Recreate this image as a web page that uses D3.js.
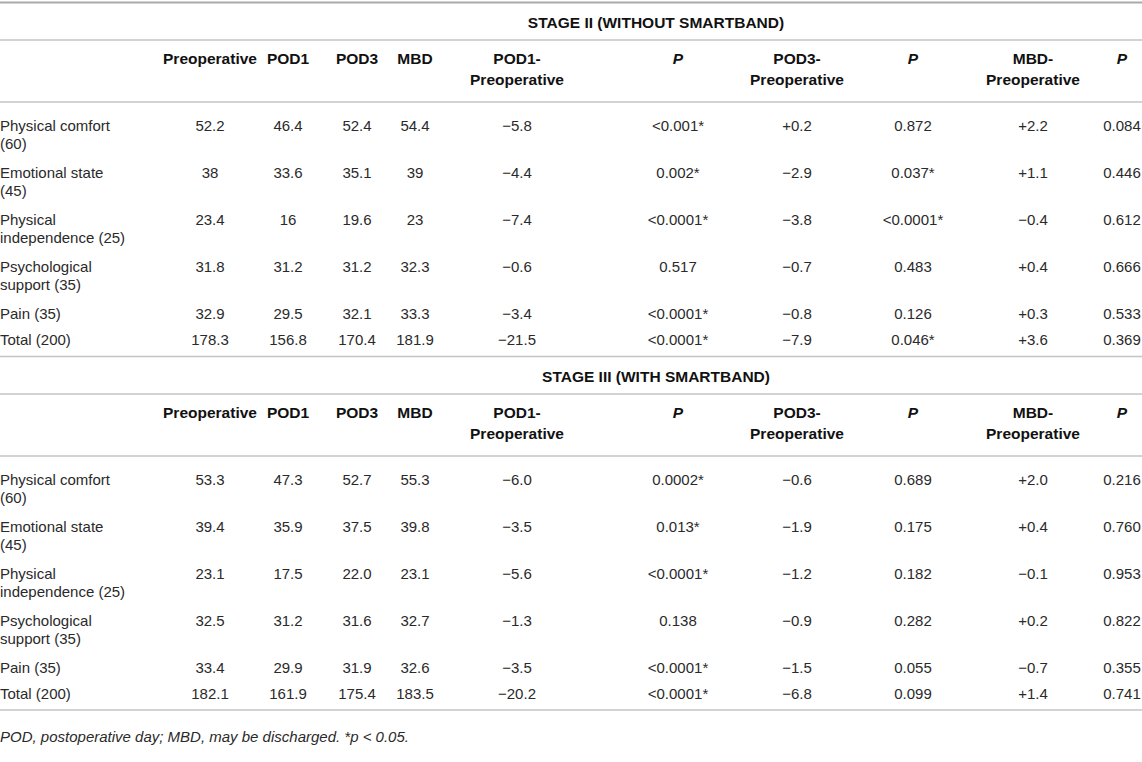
<!DOCTYPE html>
<html>
<head>
  <meta charset="utf-8">
  <title>Stage II / Stage III scores</title>
  <script src="https://d3js.org/d3.v7.min.js"></script>
  <style>
    body { margin: 0; background: #fff; }
    text { font-family: "Liberation Sans", Arial, Helvetica, sans-serif; font-size: 15px; fill: #2a2a2a; }
    .head { font-weight: bold; font-size: 15.5px; fill: #111; }
    .ital { font-style: italic; }
  </style>
</head>
<body>
  <div id="chart"></div>

  <script>
    // Row labels (split into wrapped lines)
    const rowLabels = [
      ["Physical comfort", "(60)"],
      ["Emotional state", "(45)"],
      ["Physical", "independence (25)"],
      ["Psychological", "support (35)"],
      ["Pain (35)"],
      ["Total (200)"]
    ];

    // Column headers
    const columns = [
      ["Preoperative"], ["POD1"], ["POD3"], ["MBD"],
      ["POD1-", "Preoperative"], ["P"],
      ["POD3-", "Preoperative"], ["P"],
      ["MBD-", "Preoperative"], ["P"]
    ];

    const stageTitles = ["STAGE II (WITHOUT SMARTBAND)", "STAGE III (WITH SMARTBAND)"];

    // Stage II (without smartband)
    const s2Preop = [52.2, 38, 23.4, 31.8, 32.9, 178.3];
    const s2Pod1  = [46.4, 33.6, 16, 31.2, 29.5, 156.8];
    const s2Pod3  = [52.4, 35.1, 19.6, 31.2, 32.1, 170.4];
    const s2Mbd   = [54.4, 39, 23, 32.3, 33.3, 181.9];
    const s2D1    = [-5.8, -4.4, -7.4, -0.6, -3.4, -21.5];
    const s2P1    = ["<0.001*", "0.002*", "<0.0001*", "0.517", "<0.0001*", "<0.0001*"];
    const s2D3    = [0.2, -2.9, -3.8, -0.7, -0.8, -7.9];
    const s2P3    = ["0.872", "0.037*", "<0.0001*", "0.483", "0.126", "0.046*"];
    const s2Dm    = [2.2, 1.1, -0.4, 0.4, 0.3, 3.6];
    const s2Pm    = ["0.084", "0.446", "0.612", "0.666", "0.533", "0.369"];

    // Stage III (with smartband)
    const s3Preop = [53.3, 39.4, 23.1, 32.5, 33.4, 182.1];
    const s3Pod1  = [47.3, 35.9, 17.5, 31.2, 29.9, 161.9];
    const s3Pod3  = [52.7, 37.5, 22.0, 31.6, 31.9, 175.4];
    const s3Mbd   = [55.3, 39.8, 23.1, 32.7, 32.6, 183.5];
    const s3D1    = [-6.0, -3.5, -5.6, -1.3, -3.5, -20.2];
    const s3P1    = ["0.0002*", "0.013*", "<0.0001*", "0.138", "<0.0001*", "<0.0001*"];
    const s3D3    = [-0.6, -1.9, -1.2, -0.9, -1.5, -6.8];
    const s3P3    = ["0.689", "0.175", "0.182", "0.282", "0.055", "0.099"];
    const s3Dm    = [2.0, 0.4, -0.1, 0.2, -0.7, 1.4];
    const s3Pm    = ["0.216", "0.760", "0.953", "0.822", "0.355", "0.741"];

    const footnote = "POD, postoperative day; MBD, may be discharged. *p < 0.05.";

    const width = 1142, height = 762;

    // value formatters: stage II keeps raw digits, stage III one decimal
    const raw = d => String(d);
    const one = d3.format(".1f");
    const signed = d3.format("+.1f");
    const same = d => d;

    const stages = [
      { title: stageTitles[0], top: 2,
        cols: [s2Preop, s2Pod1, s2Pod3, s2Mbd, s2D1, s2P1, s2D3, s2P3, s2Dm, s2Pm],
        fmt: [raw, raw, raw, raw, signed, same, signed, same, signed, same] },
      { title: stageTitles[1], top: 356,
        cols: [s3Preop, s3Pod1, s3Pod3, s3Mbd, s3D1, s3P1, s3D3, s3P3, s3Dm, s3Pm],
        fmt: [one, one, one, one, signed, same, signed, same, signed, same] }
    ];

    // column centres
    const x = d3.scaleOrdinal()
      .domain(d3.range(columns.length))
      .range([210, 288, 357, 415, 517, 678, 797, 913, 1033, 1122]);

    // row first-line centres, relative to the stage top
    const y = d3.scaleOrdinal()
      .domain(d3.range(rowLabels.length))
      .range([124, 171, 218, 265, 312, 338]);

    const lineH = 18;

    const svg = d3.select("#chart").append("svg")
      .attr("width", width)
      .attr("height", height);

    stages.forEach((st, si) => {
      const g = svg.append("g").attr("transform", "translate(0," + st.top + ")");

      // rules
      g.append("line").attr("x1", 0).attr("x2", width).attr("y1", 0.5).attr("y2", 0.5)
        .attr("stroke", si === 0 ? "#aaa" : "#c4c4c4").attr("stroke-width", si === 0 ? 2 : 1.5);
      [38, 100].forEach(yy => {
        g.append("line").attr("x1", 0).attr("x2", width).attr("y1", yy).attr("y2", yy)
          .attr("stroke", "#c4c4c4").attr("stroke-width", 1.5);
      });

      // stage title
      g.append("text").attr("class", "head")
        .attr("x", 656).attr("y", 21).attr("dy", "0.35em")
        .attr("text-anchor", "middle").text(st.title);

      // column headers
      const hd = g.selectAll(".colhead").data(columns).enter().append("text")
        .attr("class", d => d[0] === "P" ? "head ital" : "head")
        .attr("text-anchor", "middle")
        .attr("x", (d, i) => x(i));
      hd.selectAll("tspan").data(d => d).enter().append("tspan")
        .attr("x", function () { return d3.select(this.parentNode).attr("x"); })
        .attr("y", (d, i) => 57 + i * 21)
        .attr("dy", "0.35em")
        .text(d => d);

      // row labels
      const lb = g.selectAll(".rowlab").data(rowLabels).enter().append("text")
        .attr("x", 0);
      lb.selectAll("tspan").data((d, i) => d.map(t => ({ t, r: i }))).enter().append("tspan")
        .attr("x", 0)
        .attr("y", (d, i) => y(d.r) + i * lineH)
        .attr("dy", "0.35em")
        .text(d => d.t);

      // cells
      st.cols.forEach((col, ci) => {
        g.selectAll(".c" + ci).data(col).enter().append("text")
          .attr("text-anchor", "middle")
          .attr("x", x(ci))
          .attr("y", (d, ri) => y(ri))
          .attr("dy", "0.35em")
          .text(d => st.fmt[ci](d));
      });
    });

    // bottom rule + footnote
    svg.append("line").attr("x1", 0).attr("x2", width).attr("y1", 710).attr("y2", 710)
      .attr("stroke", "#c4c4c4").attr("stroke-width", 1.5);
    svg.append("text").attr("class", "ital")
      .attr("x", 0).attr("y", 737).attr("dy", "0.35em")
      .text(footnote);
  </script>
</body>
</html>
